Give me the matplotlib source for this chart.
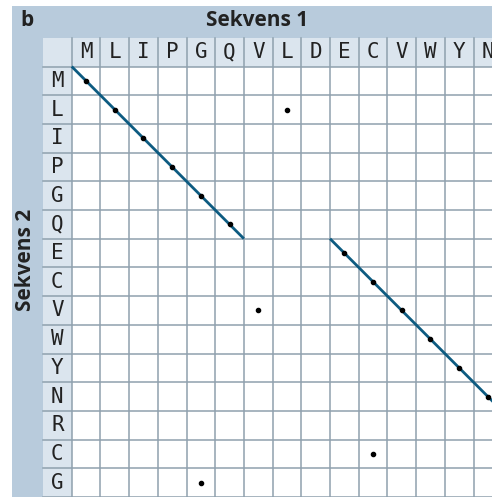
import matplotlib.pyplot as plt
from matplotlib.patches import Rectangle
import numpy as np

# sequences
seq1 = list("MLIPGQVLDECVWYN")
seq2 = list("MLIPGQECVWYNRCG")
# aligned diagonal segments: (row start, col start, length)
segments = [(0, 0, 6), (6, 9, 6)]

bg_outer = '#b8cbdc'
bg_label = '#dbe5ee'
grid_col = '#8fa1ae'
line_col = '#0d5b81'

W, H = 492, 497
fig = plt.figure(figsize=(W/100, H/100), dpi=100, facecolor='white')

# outer panel
fig.patches.append(Rectangle((12/W, 0), 1, 1 - 6/H, transform=fig.transFigure,
                             facecolor=bg_outer, edgecolor='none', zorder=-5))

cell = 28.7
n = len(seq1) + 1
ax = fig.add_axes([43/W, 0, n*cell/W, n*cell/H])
ax.set_zorder(2)
ax.set_xlim(-1, len(seq1))
ax.set_ylim(len(seq2), -1)
ax.set_axis_off()
ax.patch.set_visible(False)

# label cells and white cells
ax.add_patch(Rectangle((-1, -1), len(seq1)+1, 1, facecolor=bg_label, edgecolor='none', zorder=0))
ax.add_patch(Rectangle((-1, 0), 1, len(seq2), facecolor=bg_label, edgecolor='none', zorder=0))
ax.add_patch(Rectangle((0, 0), len(seq1), len(seq2), facecolor='white', edgecolor='none', zorder=0))

# grid lines
for x in range(0, len(seq1)+1):
    ax.plot([x, x], [-1, len(seq2)], color=grid_col, lw=1.1, zorder=1, clip_on=False)
for y in range(0, len(seq2)+1):
    ax.plot([-1, len(seq1)], [y, y], color=grid_col, lw=1.1, zorder=1, clip_on=False)

# letters
for j, c in enumerate(seq1):
    ax.text(j+0.5, -0.5, c, ha='center', va='center', fontsize=15,
            family='DejaVu Sans Mono', color='#222222')
for i, c in enumerate(seq2):
    ax.text(-0.5, i+0.5, c, ha='center', va='center', fontsize=15,
            family='DejaVu Sans Mono', color='#222222')

# diagonal lines
for r, c, L in segments:
    ax.plot([c, c+L], [r, r+L], color=line_col, lw=2.0, zorder=3, solid_capstyle='butt')

# match dots
for i, a in enumerate(seq2):
    for j, b in enumerate(seq1):
        if a == b:
            ax.plot(j+0.5, i+0.5, 'o', color='black', ms=3, zorder=4)

fig.text(27/W, 1 - 20/H, 'b', fontsize=15, fontweight='bold', family='Open Sans',
         ha='center', va='center', color='#222222')
fig.text(257/W, 1 - 20/H, 'Sekvens 1', fontsize=15, fontweight='bold', family='Open Sans',
         ha='center', va='center', color='#222222')
fig.text(26/W, 1 - 260/H, 'Sekvens 2', fontsize=15, fontweight='bold', family='Open Sans',
         ha='center', va='center', rotation=90, color='#222222')

plt.savefig('out.png', dpi=100)
